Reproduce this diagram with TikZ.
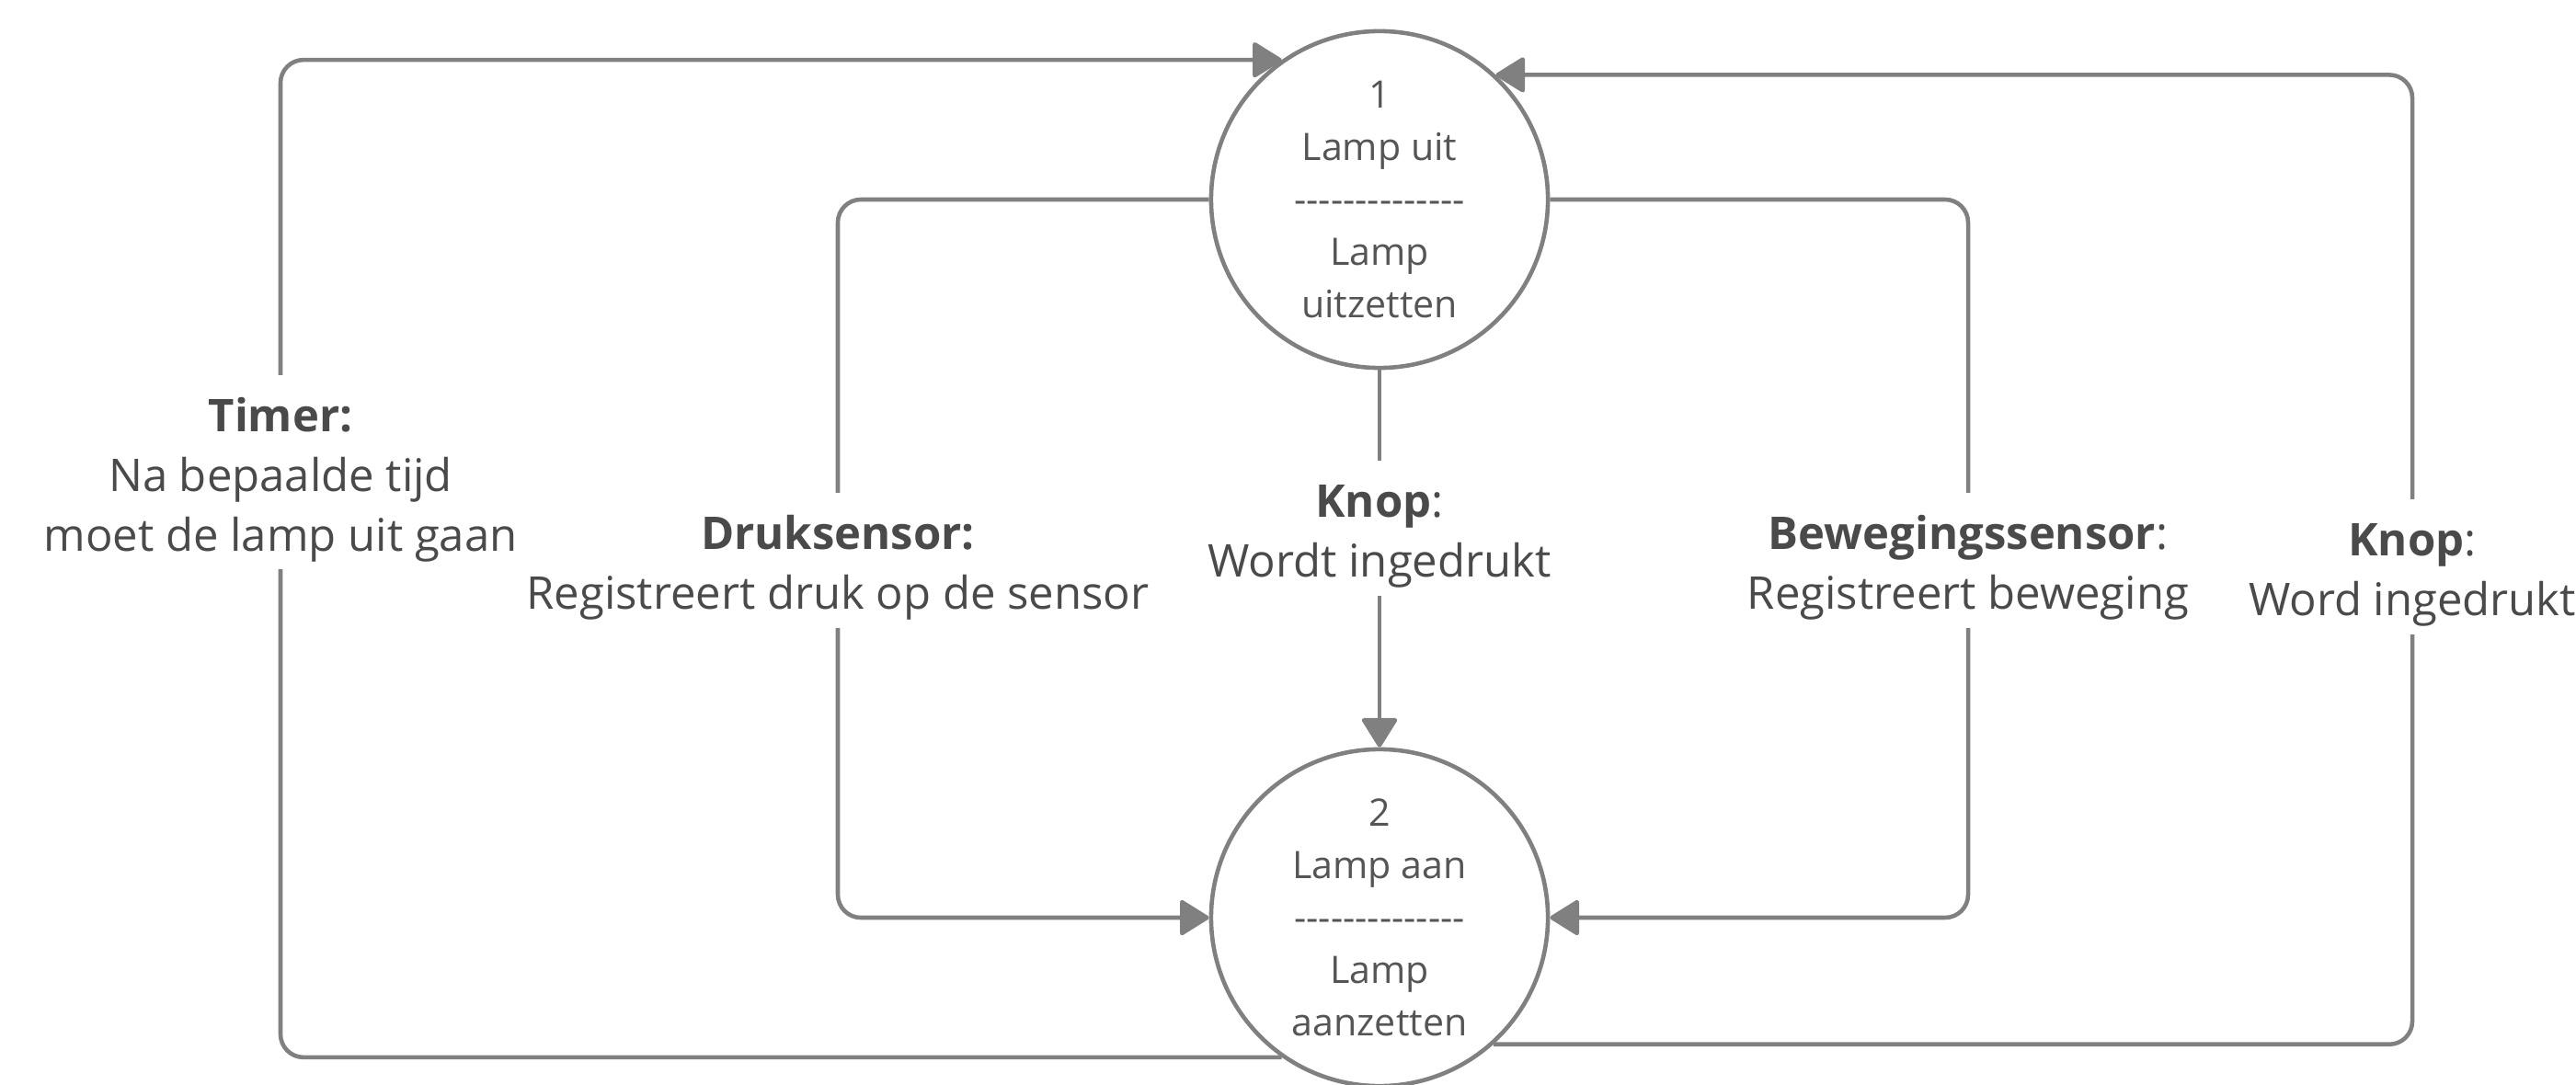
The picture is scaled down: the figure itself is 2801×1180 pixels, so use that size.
\documentclass[tikz,border=0pt]{standalone}
\usepackage{fontspec}
\setmainfont{Open Sans}
\usetikzlibrary{arrows.meta}

\definecolor{linegray}{HTML}{808080}
\definecolor{labeltext}{HTML}{4A4A4A}
\definecolor{statetext}{HTML}{555555}

% first-line and last-line struts for the flow labels
\newcommand{\topstrut}{\rule{0pt}{15.4pt}}
\newcommand{\botstrut}{\rule[-3.4pt]{0pt}{0pt}}
\newcommand{\dashrow}{-{}-{}-{}-{}-{}-{}-{}-{}-{}-{}-{}-{}-{}-}

\tikzset{
  state/.style={circle, draw=linegray, line width=1.3pt, fill=white,
    minimum size=3.66cm, inner sep=0pt, align=center, text=statetext,
    font=\fontsize{11.7pt}{16.2pt}\selectfont},
  flow/.style={draw=linegray, line width=1.3pt, rounded corners=0.25cm,
    -{Triangle[length=9.6pt, width=11.6pt, round]}},
  flowlabel/.style={fill=white, anchor=north, align=center, text=labeltext,
    inner xsep=3pt, inner ysep=2.3pt,
    font=\fontsize{13.94pt}{18.35pt}\selectfont}
}

\begin{document}
\begin{tikzpicture}[x=0.01cm, y=-0.01cm]
  \useasboundingbox (0,0) rectangle (2801,1180);

  % the two lamp states
  \node[state] (uit) at (1500,217)
    {1\\Lamp uit\\\dashrow\\Lamp\\uitzetten};
  \node[state] (aan) at (1500,998)
    {2\\Lamp aan\\\dashrow\\Lamp\\aanzetten};

  % bends of the outer and inner loops
  \coordinate (timerbend) at (305,600);
  \coordinate (drukbend) at (911,600);
  \coordinate (bewegbend) at (2140,600);
  \coordinate (knopbend) at (2623,600);

  % transitions
  \draw[flow] (aan.-125.5) -| (timerbend) |- (uit.125);
  \draw[flow] (uit.west) -| (drukbend) |- (aan.west);
  \draw[flow] (uit.south) -- (aan.north);
  \draw[flow] (uit.east) -| (bewegbend) |- (aan.east);
  \draw[flow] (aan.-48.5) -| (knopbend) |- (uit.47.5);

  % transition labels
  \node[flowlabel] (timerlabel) at (305,407)
    {\topstrut\textbf{Timer:}\\Na bepaalde tijd\\moet de lamp uit gaan\botstrut};
  \node[flowlabel] (druklabel) at (911,535)
    {\topstrut\textbf{Druksensor:}\\Registreert druk op de sensor\botstrut};
  \node[flowlabel] (knoplabel) at (1500,500)
    {\topstrut\textbf{Knop}:\\Wordt ingedrukt\botstrut};
  \node[flowlabel] (beweglabel) at (2140,535)
    {\topstrut\textbf{Bewegingssensor}:\\Registreert beweging\botstrut};
  \node[flowlabel] (knop2label) at (2623,542)
    {\topstrut\textbf{Knop}:\\Word ingedrukt\botstrut};
\end{tikzpicture}
\end{document}
